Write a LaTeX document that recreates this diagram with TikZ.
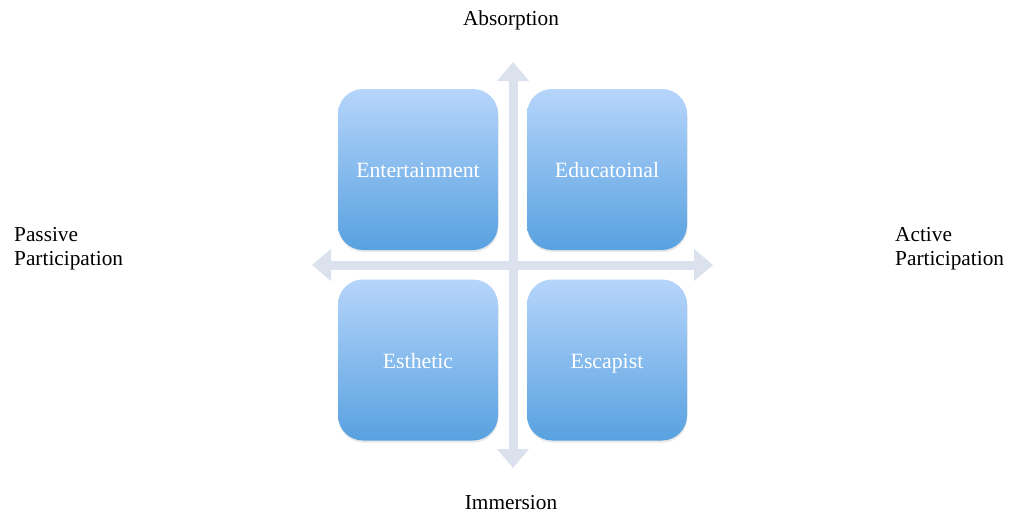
\documentclass[tikz,border=0pt]{standalone}
\usepackage{fontspec}
\setmainfont{Liberation Serif}
\usetikzlibrary{arrows.meta,shadows}
\definecolor{axiscol}{HTML}{DCE1EE}
\definecolor{boxtop}{HTML}{B6D5FB}
\definecolor{boxbot}{HTML}{58A1E0}
\tikzset{
  quad/.style={rounded corners=25pt, minimum width=160pt, minimum height=161pt,
    top color=boxtop, bottom color=boxbot, draw=none, text=white,
    font=\fontsize{21.8}{24}\selectfont, text height=16pt, text depth=0pt,
    drop shadow={shadow xshift=0.5pt, shadow yshift=-2pt, opacity=0.18}},
  axis/.style={line width=9pt, color=axiscol,
    -{Triangle[width=31pt,length=19pt]}},
  lbl/.style={font=\fontsize{21.3}{24}\selectfont, text=black, inner sep=0pt}
}
\begin{document}
\begin{tikzpicture}[x=1pt,y=-1pt]
\useasboundingbox (0,0) rectangle (1018,514);
% axes
\coordinate (vtop) at (513,62);
\coordinate (vbot) at (513,468);
\coordinate (hleft) at (312,265);
\coordinate (hright) at (713,265);
\coordinate (center) at (513,265);
\draw[axis] (center) -- (vtop);
\draw[axis] (center) -- (vbot);
\draw[axis] (center) -- (hleft);
\draw[axis] (center) -- (hright);
% quadrants
\node[quad] (ent) at (418,169.5) {Entertainment};
\node[quad] (edu) at (607,169.5) {Educatoinal};
\node[quad] (est) at (418,360) {Esthetic};
\node[quad] (esc) at (607,360) {Escapist};
% labels
\node[lbl] (abs) at (511,20) {Absorption};
\node[lbl] (imm) at (511,503) {Immersion};
\node[lbl, anchor=west, align=left] (pas) at (14,249) {Passive\\Participation};
\node[lbl, anchor=west, align=left] (act) at (895,249) {Active\\Participation};
\end{tikzpicture}
\end{document}
